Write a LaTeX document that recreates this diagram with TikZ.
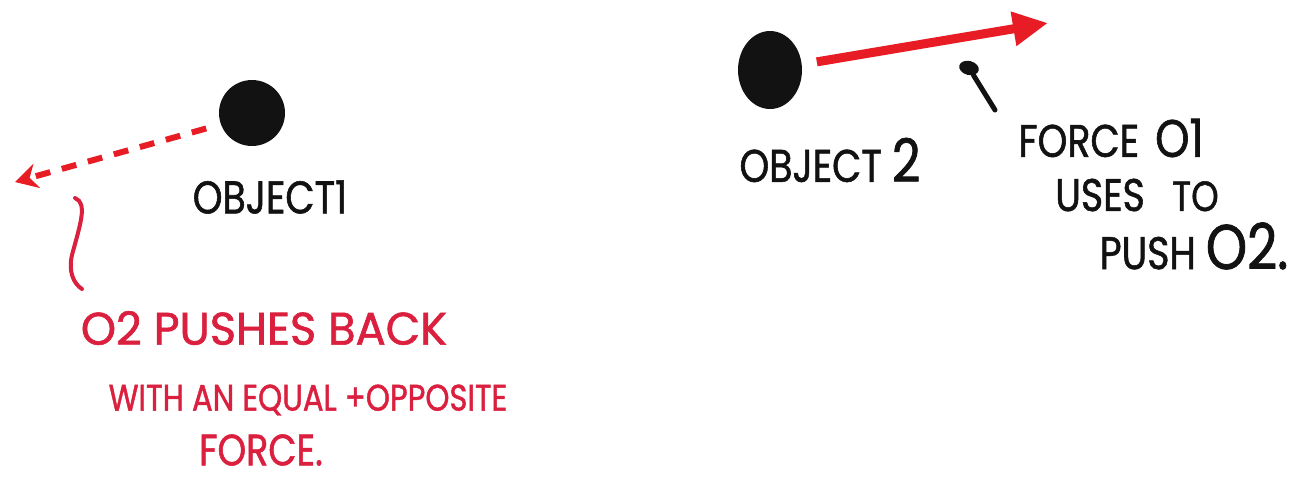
\documentclass[tikz,border=0pt]{standalone}
\usepackage{fontspec}
\setmainfont{Poppins}[FakeStretch=0.83,FakeBold=1.2]
\usetikzlibrary{arrows.meta,shapes.geometric}
\definecolor{pen}{RGB}{18,18,18}
\definecolor{redpen}{RGB}{232,28,36}
\definecolor{redtext}{RGB}{218,32,62}
\begin{document}
\begin{tikzpicture}[x=0.02cm,y=-0.02cm,
  ball/.style={ellipse,fill=pen,inner sep=0pt},
  lbl/.style={inner sep=0pt,font=\fontsize{26}{30}\selectfont,text=pen},
  rlbl/.style={lbl,text=redtext},
  pushback/.style={draw=redpen,line width=0.12cm,dash pattern=on 0.3cm off 0.24cm,
    shorten <=0.3cm,-{Stealth[length=0.45cm,width=0.5cm]}},
  pushfwd/.style={draw=redpen,line width=0.18cm,shorten <=0.3cm,
    -{Triangle[length=0.7cm,width=0.65cm]}},
  pointer/.style={draw=pen,line width=0.1cm,line cap=round},
  bracket/.style={draw=redtext,line width=0.08cm,line cap=round}
]
\fill[white] (0,0) rectangle (1301,477);
\useasboundingbox (0,0) rectangle (1301,477);

% objects
\node[ball,minimum width=1.32cm,minimum height=1.32cm] (o1) at (252,113) {};
\node[ball,minimum width=1.28cm,minimum height=1.56cm] (o2) at (770,70) {};

% black labels
\node[lbl] (l1) at (270,197) {OBJECT1};
\node[lbl] (l2) at (830,160) {OBJECT {\fontsize{34}{36}\selectfont 2}};
\node[lbl] (f1) at (1111,138) {FORCE\hspace{0.35em}{\fontsize{30}{32}\selectfont O1}};
\node[lbl] (f2) at (1137,195) {USES\hspace{0.6em}{\fontsize{24}{26}\selectfont TO}};
\node[lbl] (f3) at (1194,246) {PUSH {\fontsize{36}{38}\selectfont O2.}};

% red labels
\node[rlbl] (r1) at (264,328) {\scalebox{1.18}[1]{O2 PUSHES BACK}};
\node[rlbl,font=\fontsize{21}{25}\selectfont] (r2) at (308,400) {WITH AN EQUAL +OPPOSITE};
\node[rlbl,font=\fontsize{25}{28}\selectfont] (r3) at (261,450) {FORCE.};

% coordinates
\coordinate (tip1) at (15,182);
\coordinate (tip2) at (1048,23);
\coordinate (pe) at (995,110);
\coordinate (c1) at (75,198);
\coordinate (c2) at (82,289);
\node[ball,minimum width=0.4cm,minimum height=0.28cm,rotate=-15] (dot) at (969,68) {};

% connectors
\draw[pushback] (o1.200) -- (tip1);
\draw[pushfwd] (o2.10) -- (tip2);
\draw[pointer] (dot) -- (pe);
\draw[bracket] (c1) .. controls (88,203) and (80,225) .. (72,255)
               .. controls (68,272) and (74,284) .. (c2);
\end{tikzpicture}
\end{document}
